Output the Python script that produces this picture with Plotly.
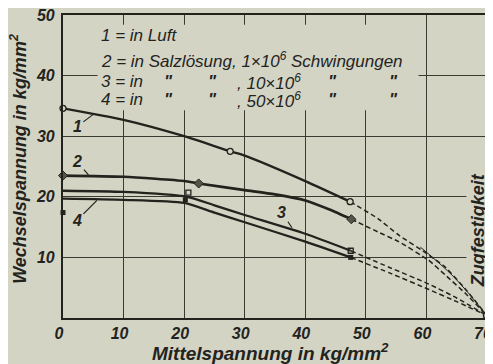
import plotly.graph_objects as go

# ---------------- data ----------------
# Curve 1: in Luft
c1_x = [0, 10, 20, 27.6, 30, 40, 47.4]
c1_y = [34.6, 32.7, 30.0, 27.5, 26.8, 22.6, 19.2]
c1_ext_x = [47.4, 52, 55.4, 60.4, 63.1, 66.5, 70]
c1_ext_y = [19.2, 16.4, 13.7, 10.4, 8.4, 4.7, 0.4]
c1_pts_x = [0, 27.6, 47.4]
c1_pts_y = [34.6, 27.5, 19.2]

# Curve 2: in Salzlösung, 1x10^6
c2_x = [0, 10, 20, 22.4, 30, 35, 40, 44, 47.6]
c2_y = [23.5, 23.3, 22.6, 22.2, 21.1, 20.4, 19.4, 17.9, 16.3]
c2_ext_x = [47.6, 52, 55.4, 60.4, 63.1, 66.5, 70]
c2_ext_y = [16.3, 14.2, 12.6, 9.5, 7.1, 4.0, 0.4]
c2_pts_x = [0, 22.4, 47.6]
c2_pts_y = [23.5, 22.2, 16.3]

# Curve 3: 10x10^6
c3_x = [0, 10, 20.5, 25, 30, 40, 47.5]
c3_y = [21.0, 20.8, 20.0, 18.6, 17.0, 13.9, 11.1]
c3_ext_x = [47.5, 54, 60.4, 65, 70]
c3_ext_y = [11.1, 8.3, 5.6, 3.3, 0.4]
c3_pts_x = [20.7, 47.5]
c3_pts_y = [20.7, 11.1]

# Curve 4: 50x10^6
c4_x = [0, 10, 20, 25, 30, 40, 47.5]
c4_y = [19.7, 19.5, 19.0, 17.4, 15.8, 12.6, 10.0]
c4_ext_x = [47.5, 54, 60.4, 65, 70]
c4_ext_y = [10.0, 7.4, 4.7, 2.7, 0.4]
c4_pts_x = [0, 20.2, 47.5]
c4_pts_y = [17.4, 19.5, 10.0]

# thin auxiliary line towards the tensile strength
aux_x = [59, 64.5, 70]
aux_y = [11.7, 6.8, 0.4]

# tensile strength point
zf_x = [70]
zf_y = [0.4]

x_ticks = [0, 10, 20, 30, 40, 50, 60, 70]
x_ticktext = ["0", "10", "20", "30", "40", "50", "60", "70"]
y_ticks = [10, 20, 30, 40, 50]
y_ticktext = ["10", "20", "30", "40", "50"]

# ---------------- styling ----------------
BG = "#d4d4c5"
INK = "#23231d"
GRID = "#3a3a32"
FONT = "Liberation Sans, Arial, sans-serif"

fig = go.Figure()

def solid(x, y, w=2.4):
    fig.add_trace(go.Scatter(x=x, y=y, mode="lines",
                             line=dict(color=INK, width=w, shape="spline", smoothing=0.6),
                             hoverinfo="skip", showlegend=False))

def dashed(x, y, w=1.5):
    fig.add_trace(go.Scatter(x=x, y=y, mode="lines",
                             line=dict(color=INK, width=w, dash="5px,3px", shape="spline", smoothing=0.5),
                             hoverinfo="skip", showlegend=False))

solid(c1_x, c1_y, 2.4)
solid(c2_x, c2_y, 2.6)
solid(c3_x, c3_y, 2.3)
solid(c4_x, c4_y, 2.3)
dashed(c1_ext_x, c1_ext_y)
dashed(c2_ext_x, c2_ext_y)
dashed(c3_ext_x, c3_ext_y)
dashed(c4_ext_x, c4_ext_y)
fig.add_trace(go.Scatter(x=aux_x, y=aux_y, mode="lines",
                         line=dict(color=INK, width=1.0, shape="spline"),
                         hoverinfo="skip", showlegend=False))

# markers
fig.add_trace(go.Scatter(x=c1_pts_x, y=c1_pts_y, mode="markers", cliponaxis=False,
                         marker=dict(symbol="circle", size=6, color=BG,
                                     line=dict(color=INK, width=1.3)),
                         hoverinfo="skip", showlegend=False))
fig.add_trace(go.Scatter(x=c2_pts_x, y=c2_pts_y, mode="markers", cliponaxis=False,
                         marker=dict(symbol="diamond", size=7, color="#55554c",
                                     line=dict(color=INK, width=1)),
                         hoverinfo="skip", showlegend=False))
fig.add_trace(go.Scatter(x=c3_pts_x, y=c3_pts_y, mode="markers", cliponaxis=False,
                         marker=dict(symbol="square-open", size=5, color=INK,
                                     line=dict(color=INK, width=1.3)),
                         hoverinfo="skip", showlegend=False))
fig.add_trace(go.Scatter(x=c4_pts_x, y=c4_pts_y, mode="markers", cliponaxis=False,
                         marker=dict(symbol="square", size=5, color=INK),
                         hoverinfo="skip", showlegend=False))
fig.add_trace(go.Scatter(x=zf_x, y=zf_y, mode="markers",
                         marker=dict(symbol="circle", size=7, color=BG,
                                     line=dict(color=INK, width=1.5)),
                         hoverinfo="skip", showlegend=False, cliponaxis=False))

# box hiding the grid behind the legend text
fig.add_shape(type="rect", xref="x", yref="y", x0=5.7, x1=58.7, y0=34.3, y1=48.4,
              fillcolor=BG, line=dict(width=0), layer="between")

ann = []
# legend text
lx = 6.0
Q = "<b>\"</b>"
legend_rows = [
    (46.7, [(lx, "1 = in Luft")]),
    (42.5, [(lx, "2 = in Salzlösung, 1×10<sup>6</sup> Schwingungen")]),
    (39.0, [(lx, "3 = in"), (16.4, Q), (23.6, Q), (28.4, ", 10×10<sup>6</sup>"), (43.4, Q), (53.5, Q)]),
    (36.0, [(lx, "4 = in"), (16.4, Q), (23.6, Q), (28.4, ", 50×10<sup>6</sup>"), (43.4, Q), (53.5, Q)]),
]
for yy, parts in legend_rows:
    for xx, t in parts:
        ann.append(dict(x=xx, y=yy, xref="x", yref="y", text="<i>" + t + "</i>",
                        showarrow=False, xanchor="left", yanchor="middle",
                        font=dict(family=FONT, size=17, color=INK)))

# curve labels with small hooks
for tx, ty, axp, ayp, lab in [(5.0, 33.6, -16, 12, "1"),
                              (4.2, 23.6, -11, -13, "2"),
                              (37.8, 14.9, -10, -15, "3"),
                              (5.6, 19.4, -20, 20, "4")]:
    ann.append(dict(x=tx, y=ty, xref="x", yref="y", ax=axp, ay=ayp,
                    text="<i><b>" + lab + "</b></i>", showarrow=True, arrowhead=0,
                    arrowwidth=1.2, arrowcolor=INK, standoff=0, startstandoff=0,
                    font=dict(family=FONT, size=16, color=INK)))

# axis titles
ann.append(dict(x=0.49, y=-0.112, xref="paper", yref="paper",
                text="<b><i>Mittelspannung in kg/mm<sup>2</sup></i></b>",
                showarrow=False, xanchor="center", yanchor="middle",
                font=dict(family=FONT, size=19, color=INK)))
ann.append(dict(x=-0.104, y=0.525, xref="paper", yref="paper", textangle=-90,
                text="<b><i>Wechselspannung in kg/mm<sup>2</sup></i></b>",
                showarrow=False, xanchor="center", yanchor="middle",
                font=dict(family=FONT, size=18, color=INK)))
ann.append(dict(x=0.979, y=0.29, xref="paper", yref="paper", textangle=-90,
                text="<b><i>Zugfestigkeit</i></b>", bgcolor=BG,
                showarrow=False, xanchor="center", yanchor="middle",
                font=dict(family=FONT, size=18, color=INK)))

# page body has an 8px margin: the figure is placed so that the plot area
# lands at the reference's pixel position
fig.update_layout(
    width=485, height=356,
    margin=dict(l=55, r=6, t=7, b=46, autoexpand=False),
    paper_bgcolor=BG, plot_bgcolor=BG,
    annotations=ann,
    showlegend=False,
    xaxis=dict(range=[0, 70], tickvals=x_ticks, ticktext=x_ticktext,
               showgrid=True, gridcolor=GRID, gridwidth=1.3,
               showline=True, linecolor=INK, linewidth=2.2, mirror=True,
               zeroline=False, ticks="", ticklabeloverflow="allow", automargin=False,
               ticklabelshift=-4,
               tickfont=dict(family=FONT, size=16, color=INK, style="italic", weight="bold")),
    yaxis=dict(range=[0, 50], tickvals=y_ticks, ticktext=y_ticktext,
               showgrid=True, gridcolor=GRID, gridwidth=1.3,
               showline=True, linecolor=INK, linewidth=2.2, mirror=True,
               zeroline=False, ticks="outside", ticklen=3, tickcolor=BG,
               ticklabeloverflow="allow", automargin=False,
               tickfont=dict(family=FONT, size=16, color=INK, style="italic", weight="bold")),
)

fig.write_html("out.html")
